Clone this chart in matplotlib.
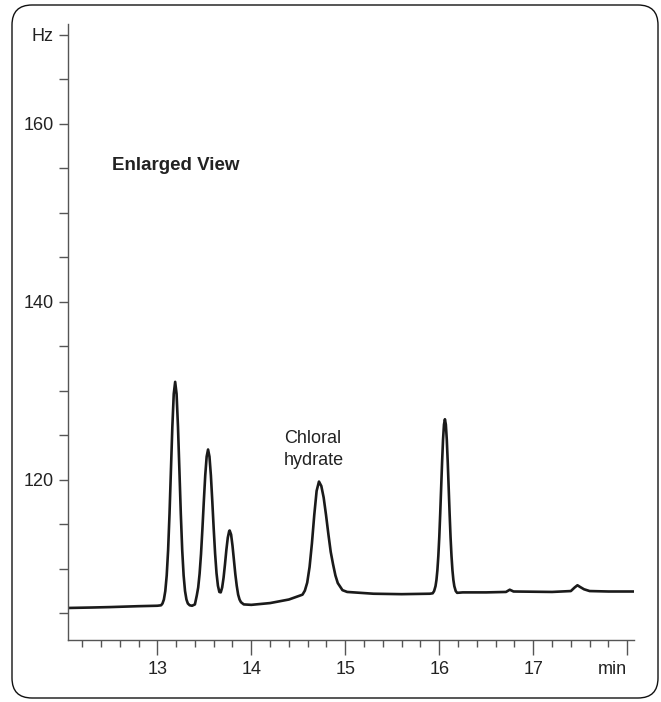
import matplotlib.pyplot as plt
from matplotlib.patches import FancyBboxPatch

# Trace (time in min, signal in Hz)
t = [12.05, 12.3, 12.5, 12.8, 13.0, 13.04,
     13.055, 13.07, 13.085, 13.10, 13.115, 13.13, 13.145, 13.16, 13.175,
     13.19,
     13.205, 13.22, 13.235, 13.25, 13.265, 13.28, 13.295, 13.31, 13.325,
     13.345, 13.37, 13.40,
     13.42, 13.435, 13.45, 13.465, 13.48, 13.495, 13.51, 13.525, 13.54,
     13.555, 13.57, 13.585, 13.60, 13.615, 13.63, 13.645, 13.66, 13.675,
     13.69, 13.705, 13.72, 13.735, 13.75, 13.765, 13.77,
     13.785, 13.80, 13.815, 13.83, 13.845, 13.86, 13.875, 13.89, 13.92,
     14.0, 14.2, 14.4, 14.52,
     14.545, 14.57, 14.595, 14.62, 14.645, 14.67, 14.695, 14.72,
     14.745, 14.77, 14.795, 14.82, 14.845, 14.87, 14.895, 14.92, 14.97,
     15.02, 15.3, 15.6, 15.9, 15.93,
     15.945, 15.96, 15.97, 15.98, 15.99, 16.0, 16.01, 16.02, 16.03, 16.04,
     16.05, 16.06,
     16.07, 16.08, 16.09, 16.10, 16.11, 16.12, 16.13, 16.14, 16.15, 16.16,
     16.175, 16.19, 16.25, 16.5, 16.71, 16.75, 16.79, 17.2, 17.40,
     17.44, 17.47, 17.50, 17.54, 17.6, 17.8, 18.07]
hz = [105.6, 105.65, 105.7, 105.8, 105.85, 105.9,
      106.1, 106.55, 107.5, 109.25, 112.1, 116.2, 121.1, 125.95, 129.65,
      131.0,
      129.65, 125.95, 121.1, 116.2, 112.1, 109.25, 107.5, 106.55, 106.1,
      105.9, 105.85, 106.0,
      107.0, 107.9, 109.45, 111.65, 114.5, 117.6, 120.5, 122.6, 123.4,
      122.6, 120.5, 117.6, 114.5, 111.7, 109.5, 108.1, 107.4, 107.35,
      107.9, 109.0, 110.5, 112.15, 113.5, 114.25, 114.3,
      113.85, 112.6, 111.0, 109.4, 108.1, 107.1, 106.55, 106.25, 106.0,
      105.95, 106.15, 106.55, 107.0,
      107.1, 107.55, 108.45, 110.2, 112.85, 116.05, 118.75, 119.8,
      119.3, 118.0, 116.05, 113.9, 111.9, 110.5, 109.25, 108.4, 107.6,
      107.4, 107.2, 107.15, 107.2, 107.25,
      107.5, 108.05, 108.75, 109.85, 111.45, 113.55, 116.2, 119.1, 122.0,
      124.5, 126.2, 126.8,
      126.2, 124.5, 122.0, 119.1, 116.2, 113.55, 111.45, 109.85, 108.75,
      108.05, 107.5, 107.3, 107.35, 107.35, 107.4, 107.65, 107.45, 107.4,
      107.5, 107.9, 108.15, 107.95, 107.7, 107.5, 107.45, 107.45]

x_major = [13, 14, 15, 16, 17, 18]
x_labels = ['13', '14', '15', '16', '17', 'min']
y_major = [120, 140, 160, 170]
y_labels = ['120', '140', '160', 'Hz']
y_minor = [105, 110, 115, 125, 130, 135, 145, 150, 155, 165]

plt.rcParams['font.family'] = ['Liberation Sans', 'DejaVu Sans']

fig = plt.figure(figsize=(6.61, 7.02), dpi=100)
ax = fig.add_axes([0.1029, 0.0883, 0.856, 0.8775])

ax.plot(t, hz, color='#1a1a1a', lw=1.9, solid_joinstyle='round')

ax.set_xlim(12.05, 18.07)
ax.set_ylim(102.0, 171.2)

ax.set_xticks(x_major)
ax.set_xticklabels(x_labels)
ax.set_xticks([v / 10 for v in range(122, 181, 2) if v % 10], minor=True)
ax.set_yticks(y_major)
ax.set_yticklabels(y_labels)
ax.set_yticks(y_minor, minor=True)
ax.get_xticklabels()[-1].set_ha('right')

for s in ['top', 'right']:
    ax.spines[s].set_visible(False)
for s in ['left', 'bottom']:
    ax.spines[s].set_color('#555555')
    ax.spines[s].set_linewidth(1.0)

ax.tick_params(axis='x', which='major', length=11, width=1, color='#555555',
               labelsize=13, pad=4, labelcolor='#222222')
ax.tick_params(axis='x', which='minor', length=5, width=1, color='#555555')
ax.tick_params(axis='y', which='both', length=6.5, width=1, color='#555555',
               labelsize=13, pad=4, labelcolor='#222222')

ax.text(12.52, 155.3, 'Enlarged View', fontsize=13.5, fontweight='bold',
        va='center', ha='left', color='#222222')
ax.text(14.35, 123.4, 'Chloral\nhydrate', fontsize=13, va='center',
        ha='left', linespacing=1.45, color='#222222')

# rounded frame around the whole figure
box = FancyBboxPatch((0.12, 0.04), 6.46, 6.93,
                     boxstyle='round,pad=0,rounding_size=0.2',
                     transform=fig.dpi_scale_trans, fill=False,
                     edgecolor='#111111', lw=1.0)
fig.patches.append(box)

fig.savefig('out.png', dpi=100)
